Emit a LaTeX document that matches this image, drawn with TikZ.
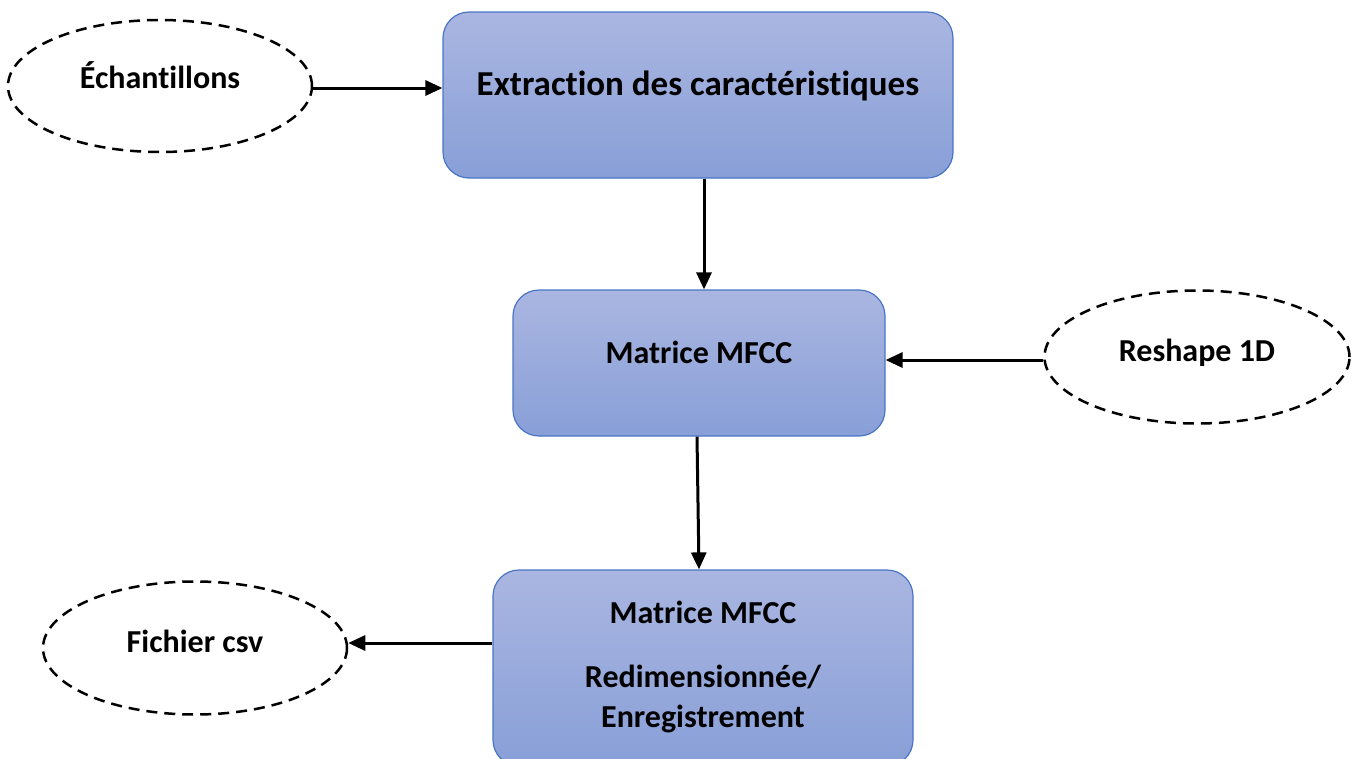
\documentclass[tikz,border=0pt]{standalone}
\usepackage{fontspec}
\setmainfont{Carlito}[Ligatures=NoCommon]
\usetikzlibrary{arrows.meta,shapes.geometric}
\definecolor{boxtop}{HTML}{AAB6E1}
\definecolor{boxbot}{HTML}{889FD7}
\definecolor{boxline}{HTML}{4A74C6}

\begin{document}
\begin{tikzpicture}[x=1pt,y=-1pt,
  procbox/.style={rectangle,rounded corners=26pt,draw=boxline,line width=1.2pt,top color=boxtop,bottom color=boxbot,font=\bfseries\fontsize{32}{40}\selectfont,align=center},
  dashell/.style={ellipse,draw,dashed,dash pattern=on 11pt off 7pt,line width=2.5pt,font=\bfseries\fontsize{32}{38}\selectfont},
  flow/.style={-{Triangle[length=17pt,width=15pt]},line width=3pt}]
\useasboundingbox (0,0) rectangle (1355,758);
%
% boites
  \node[procbox,minimum width=510pt,minimum height=166pt,text depth=24pt,font=\bfseries\fontsize{35}{40}\selectfont] (extr) at (698,95) {Extraction des caract\'eristiques};
  \node[procbox,minimum width=372pt,minimum height=146pt,text depth=22pt] (mfcc) at (699,363) {Matrice MFCC};
  \node[procbox,minimum width=420pt,minimum height=196pt,text depth=8pt] (redim) at (703,668) {Matrice MFCC\\[24pt]Redimensionn\'ee/\\Enregistrement};
%
% ellipses
  \node[dashell,minimum width=304pt,minimum height=132pt,text depth=22pt] (ech) at (160,86) {\'Echantillons};
  \node[dashell,minimum width=305pt,minimum height=133pt,text depth=14pt] (resh) at (1197,357) {Reshape 1D};
  \node[dashell,minimum width=304pt,minimum height=133pt,text depth=14pt] (csv) at (195,648) {Fichier csv};
%
% fleches
  \draw[flow] (ech.east |- 0,88) -- (extr.west |- 0,88);
  \draw[flow] (extr.south -| 704,0) -- (mfcc.north -| 704,0);
  \draw[flow] (resh.west |- 0,360) -- (mfcc.east |- 0,360);
  \draw[flow] (mfcc.south -| 697,0) -- (redim.north -| 699,0);
  \draw[flow] (redim.west |- 0,643) -- (csv.east |- 0,643);
\end{tikzpicture}
\end{document}
